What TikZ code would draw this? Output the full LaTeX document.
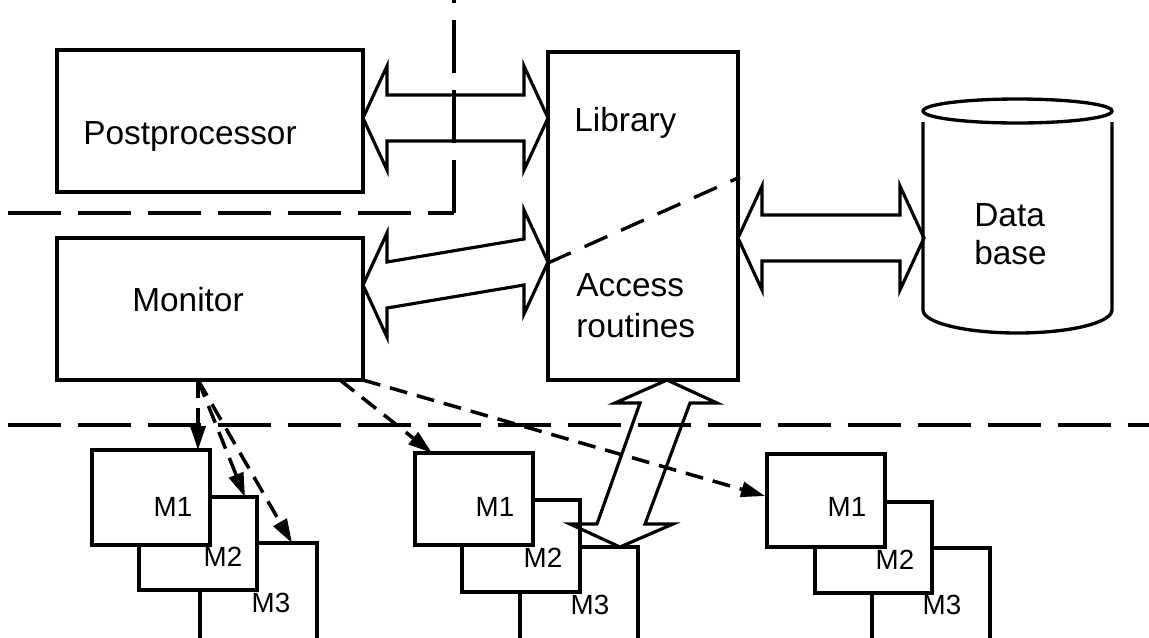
\documentclass[tikz,border=0pt]{standalone}
\usepackage{fontspec}
\setmainfont{Liberation Sans}
\usetikzlibrary{calc,fit,arrows.meta}

\newcommand{\fatdblarrow}[2]{%
  \draw[fatline] (#1) -- ($(#1)+(24,-52)$) -- ($(#1)+(24,-23)$) -- ($(#2)+(-24,-23)$) -- ($(#2)+(-24,-52)$) -- (#2)
    -- ($(#2)+(-24,52)$) -- ($(#2)+(-24,23)$) -- ($(#1)+(24,23)$) -- ($(#1)+(24,52)$) -- cycle;}

\tikzset{
  box/.style={draw, line width=1.9pt, inner sep=0pt, outer sep=0pt, fill=white},
  ghost/.style={inner sep=0pt, outer sep=0pt},
  fatline/.style={line width=1.8pt, line join=miter},
  sepline/.style={line width=2.3pt, dash pattern=on 1.06cm off 0.34cm},
  diagsep/.style={line width=1.9pt, dash pattern=on 0.5cm off 0.3cm},
  ctl/.style={line width=2pt, dash pattern=on 0.36cm off 0.2cm, -{Triangle[length=0.48cm,width=0.3cm]}},
  lbl/.style={font=\fontsize{19}{22}\selectfont, inner sep=0pt, text height=13.6pt, text depth=0pt},
  mlbl/.style={font=\fontsize{15.8}{18}\selectfont, inner sep=0pt, text height=11.3pt, text depth=0pt},
}

\begin{document}
\begin{tikzpicture}[x=0.02cm, y=-0.02cm]
\useasboundingbox (0,0) rectangle (1149,637);
\clip (0,0) rectangle (1149,637);

% separator lines
\draw[sepline] (8,213) -- (454,213);
\draw[sepline] (454,213) -- (454,0);
\draw[sepline] (8,425) -- (1149,425);

% main boxes
\node[box, fit={(57,50) (363,192)}] (post) {};
\node[box, fit={(548,52) (738,380)}] (lib) {};
\node[box, fit={(57,238) (363,380)}] (mon) {};
\node[ghost, fit={(923,99) (1112,333)}] (db) {};

% database cylinder
\draw[line width=1.9pt] (1017.5,111) ellipse [x radius=1.89cm, y radius=0.24cm];
\draw[line width=1.9pt] (923,122) -- (923,310) arc[start angle=180, end angle=360, x radius=1.89cm, y radius=0.46cm] -- (1112,122);

% dashed diagonal inside library
\draw[diagsep] ($(lib.north west)+(0,211)$) -- ($(lib.north east)+(2,125)$);

% texts
\node[lbl] (tpost) at (190,133) {Postprocessor};
\node[lbl, anchor=west] (tlib) at (574,120) {Library};
\node[lbl, anchor=west] (tacc) at (576,285) {Access};
\node[lbl, anchor=west] (trou) at (576,326) {routines};
\node[lbl] (tmon) at (188,300) {Monitor};
\node[lbl, anchor=west] (tdata) at (974,215) {Data};
\node[lbl, anchor=west] (tbase) at (974,253) {base};

% fat double arrows
\coordinate (pa) at ($(post.north east)+(0,68)$);
\coordinate (lb) at ($(lib.north west)+(0,66)$);
\fatdblarrow{pa}{lb}
\coordinate (ma) at ($(mon.north east)+(0,47)$);
\coordinate (lc) at ($(lib.north west)+(0,210)$);
\fatdblarrow{ma}{lc}
\coordinate (ld) at ($(lib.north east)+(0,186)$);
\coordinate (dbw) at ($(db.north west)+(1,139)$);
\fatdblarrow{ld}{dbw}

% module stacks (back to front)
\node[box, fit={(200,543) (317,680)}] (lm3) {};
\node[box, fit={(520,547) (638,680)}] (mm3) {};
\node[box, fit={(872,548) (990,680)}] (rm3) {};
\node[box, fit={(139,497) (257,590)}] (lm2) {};
\node[box, fit={(462,500) (580,592)}] (mm2) {};
\node[box, fit={(815,502) (932,593)}] (rm2) {};
\node[box, fit={(92,450) (210,545)}] (lm1) {};
\node[box, fit={(415,453) (533,545)}] (mm1) {};
\node[box, fit={(767,454) (885,547)}] (rm1) {};

\node[mlbl] (lm1t) at (173,507) {M1};
\node[mlbl] (lm2t) at (223,557) {M2};
\node[mlbl] (lm3t) at (271,603) {M3};
\node[mlbl] (mm1t) at (495,507) {M1};
\node[mlbl] (mm2t) at (543,558) {M2};
\node[mlbl] (mm3t) at (590,605) {M3};
\node[mlbl] (rm1t) at (847,507) {M1};
\node[mlbl] (rm2t) at (895,560) {M2};
\node[mlbl] (rm3t) at (942,605) {M3};

% big double arrow library <-> middle M3
\coordinate (t1) at ($(lib.south west)+(119,0)$);
\coordinate (t2) at ($(mm3.north west)+(100,0)$);
\draw[fatline] (t1) -- ($(t1)+(50,23)$) -- ($(t1)+(23,23)$) -- ($(t2)+(25,-23)$) -- ($(t2)+(53,-23)$) -- (t2)
  -- ($(t2)+(-50,-23)$) -- ($(t2)+(-23,-23)$) -- ($(t1)+(-27,23)$) -- ($(t1)+(-52,23)$) -- cycle;

% dashed control arrows
\coordinate (ms) at ($(mon.south west)+(141,0)$);
\draw[ctl] (ms) -- ($(lm1.north west)+(106,0)$);
\draw[ctl] (ms) -- ($(lm2.north west)+(106,0)$);
\draw[ctl] (ms) -- ($(lm3.north west)+(92,0)$);
\draw[ctl] ($(mon.south east)+(-23,0)$) -- ($(mm1.north west)+(17,0)$);
\draw[ctl] (mon.south east) -- ($(rm1.north west)+(-2,42)$);
\end{tikzpicture}
\end{document}
